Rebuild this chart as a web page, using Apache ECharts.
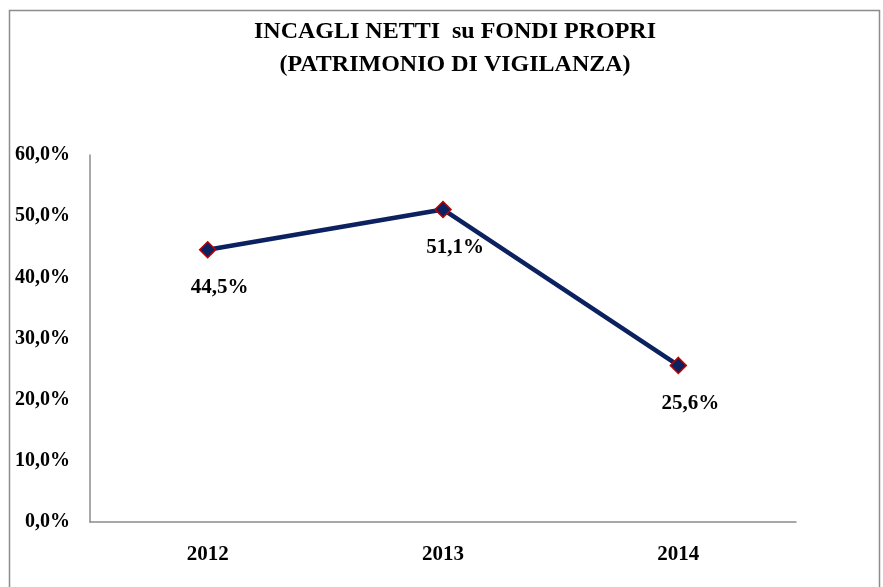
<!DOCTYPE html>
<html>
<head>
<meta charset="utf-8">
<script src="https://cdn.jsdelivr.net/npm/echarts@6/dist/echarts.min.js"></script>
<style>
  html, body { margin: 0; padding: 0; background: #fff; }
  #chart { width: 883px; height: 587px; }
</style>
</head>
<body>
<div id="chart"></div>
<script>
// dati
var years = ['2012', '2013', '2014']
var incagliSuFondi = [44.5, 51.1, 25.6]
var yTicks = [0, 10, 20, 30, 40, 50, 60]

var font = '"Liberation Serif", "Times New Roman", serif'
var fmt = function (v) { return v.toFixed(1).replace('.', ',') + '%' }

var myChart = echarts.init(document.getElementById('chart'))
var option = {
  backgroundColor: '#fff',
  animation: false,
  graphic: [{
    // cornice dell'area grafico
    type: 'rect',
    shape: { x: 9.5, y: 10.5, width: 870, height: 600 },
    style: { fill: 'none', stroke: '#8c8c8c', lineWidth: 1.5 },
    silent: true
  }, {
    // titolo (leggermente spostato a destra come nell'originale)
    type: 'text',
    x: 455,
    y: 15,
    style: {
      text: 'INCAGLI NETTI  su FONDI PROPRI\n(PATRIMONIO DI VIGILANZA)',
      align: 'center',
      verticalAlign: 'top',
      font: 'bold 24px ' + font,
      lineHeight: 33,
      fill: '#000'
    },
    silent: true
  }],
  grid: {
    left: 90,
    right: 87,
    top: 155,
    bottom: 65
  },
  xAxis: {
    type: 'category',
    data: years,
    boundaryGap: true,
    axisLine: { show: true, lineStyle: { color: '#8c8c8c', width: 1.5 } },
    axisTick: { show: false },
    axisLabel: {
      margin: 22,
      fontFamily: font,
      fontWeight: 'bold',
      fontSize: 21,
      color: '#000'
    },
    splitLine: { show: false }
  },
  yAxis: {
    type: 'value',
    min: yTicks[0],
    max: yTicks[yTicks.length - 1],
    interval: yTicks[1] - yTicks[0],
    axisLine: { show: true, lineStyle: { color: '#8c8c8c', width: 1.5 } },
    axisTick: { show: false },
    splitLine: { show: false },
    axisLabel: {
      margin: 20,
      fontFamily: font,
      fontWeight: 'bold',
      fontSize: 20,
      color: '#000',
      formatter: fmt
    }
  },
  series: [{
    type: 'line',
    data: incagliSuFondi,
    symbol: 'diamond',
    symbolSize: 16,
    lineStyle: { color: '#0b2160', width: 4.5 },
    itemStyle: { color: '#0b2160', borderColor: '#c00000', borderWidth: 1.5 },
    label: {
      show: true,
      position: 'bottom',
      distance: 18,
      offset: [12, 1],
      fontFamily: font,
      fontWeight: 'bold',
      fontSize: 21,
      color: '#000',
      formatter: function (p) { return fmt(p.value) }
    },
    z: 3
  }]
}
myChart.setOption(option)
</script>
</body>
</html>
